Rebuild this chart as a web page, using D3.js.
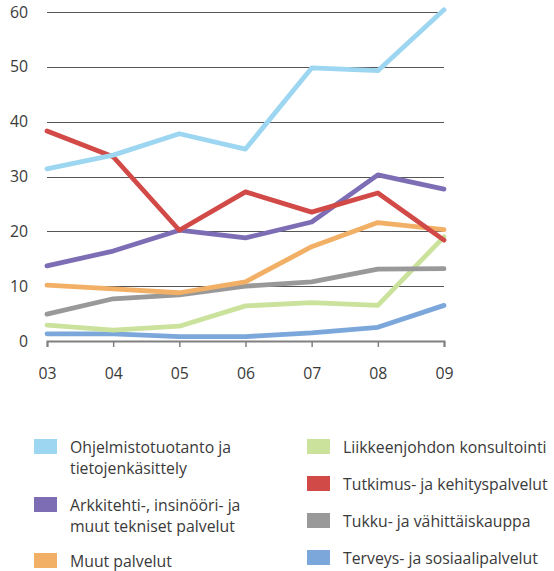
<!DOCTYPE html>
<html lang="fi">
<head>
  <meta charset="UTF-8">
  <title>Toimialat</title>
  <script src="https://d3js.org/d3.v7.min.js"></script>
  <style>
    body { margin: 0; background: #fff; }
    svg text { font-family: "Open Sans", sans-serif; fill: #3a3a3a; }
    .grid line { stroke: #555; stroke-width: 1px; }
    .series { fill: none; stroke-width: 4.8px; stroke-linejoin: round; stroke-linecap: round; }
  </style>
</head>
<body>
  <div id="chart"></div>
  <script>
    const years = ["03", "04", "05", "06", "07", "08", "09"];
    const yTicks = [0, 10, 20, 30, 40, 50, 60];

    const ohjelmisto = [31.4, 33.9, 37.8, 35.0, 49.8, 49.3, 60.4];
    const arkkitehti = [13.7, 16.4, 20.2, 18.8, 21.7, 30.3, 27.7];
    const muut = [10.2, 9.5, 8.8, 10.8, 17.2, 21.6, 20.3];
    const liikkeenjohto = [2.9, 2.0, 2.7, 6.4, 7.0, 6.5, 19.0];
    const tutkimus = [38.3, 33.6, 20.2, 27.2, 23.5, 27.0, 18.4];
    const tukku = [4.9, 7.7, 8.4, 10.0, 10.8, 13.1, 13.2];
    const terveys = [1.3, 1.3, 0.8, 0.8, 1.5, 2.5, 6.5];

    const names = [
      "Ohjelmistotuotanto ja|tietojenkäsittely",
      "Arkkitehti-, insinööri- ja|muut tekniset palvelut",
      "Muut palvelut",
      "Liikkeenjohdon konsultointi",
      "Tutkimus- ja kehityspalvelut",
      "Tukku- ja vähittäiskauppa",
      "Terveys- ja sosiaalipalvelut"
    ];
    const colors = ["#9dd6f1", "#7d6db5", "#f2b066", "#cbe29c", "#d24a47", "#999999", "#7ba7da"];
    const values = [ohjelmisto, arkkitehti, muut, liikkeenjohto, tutkimus, tukku, terveys];

    // piirtojärjestys (alimmat ensin)
    const drawOrder = [6, 3, 5, 2, 1, 4, 0];

    const width = 554, height = 571;
    const svg = d3.select("#chart").append("svg")
      .attr("width", width).attr("height", height);

    const x = d3.scalePoint().domain(years).range([47, 444]);
    const y = d3.scaleLinear().domain([0, 60]).range([341, 12]);

    // vaakaviivat
    svg.append("g").attr("class", "grid")
      .selectAll("line")
      .data(yTicks.filter(d => d > 0))
      .enter().append("line")
      .attr("x1", 47).attr("x2", 444)
      .attr("y1", d => Math.round(y(d)) + 0.5)
      .attr("y2", d => Math.round(y(d)) + 0.5);

    // y-akselin tekstit
    svg.append("g")
      .selectAll("text")
      .data(yTicks)
      .enter().append("text")
      .attr("x", 28)
      .attr("y", d => y(d) + 5.5)
      .attr("text-anchor", "end")
      .style("font-size", "15.8px")
      .text(d => d);

    // x-akseli
    const xAxis = svg.append("g")
      .attr("transform", `translate(0,${y(0)})`)
      .call(d3.axisBottom(x).tickSize(6).tickPadding(21));
    xAxis.select(".domain").attr("stroke", "#808080").attr("stroke-width", 2);
    xAxis.selectAll(".tick line").attr("stroke", "#808080").attr("stroke-width", 1.5);
    xAxis.selectAll(".tick text")
      .style("font-family", "'Open Sans', sans-serif")
      .style("font-size", "15.8px")
      .attr("fill", "#3a3a3a");

    const line = d3.line()
      .x((d, i) => x(years[i]))
      .y(d => y(d));

    svg.append("g")
      .selectAll("path")
      .data(drawOrder)
      .enter().append("path")
      .attr("class", "series")
      .attr("stroke", i => colors[i])
      .attr("d", i => line(values[i]));

    // selite
    const legendPos = [
      [34, 439], [34, 497], [34, 553],
      [307, 439], [307, 476], [307, 513], [307, 550]
    ];
    const legend = svg.append("g")
      .selectAll("g")
      .data(names)
      .enter().append("g")
      .attr("transform", (d, i) => `translate(${legendPos[i][0]},${legendPos[i][1]})`);

    legend.append("rect")
      .attr("width", 23).attr("height", 15)
      .attr("fill", (d, i) => colors[i]);

    legend.append("text")
      .attr("x", 36)
      .style("font-size", "15.8px")
      .selectAll("tspan")
      .data(d => d.split("|"))
      .enter().append("tspan")
      .attr("x", 36)
      .attr("y", (d, i) => 13.5 + i * 21.5)
      .text(d => d);
  </script>
</body>
</html>
